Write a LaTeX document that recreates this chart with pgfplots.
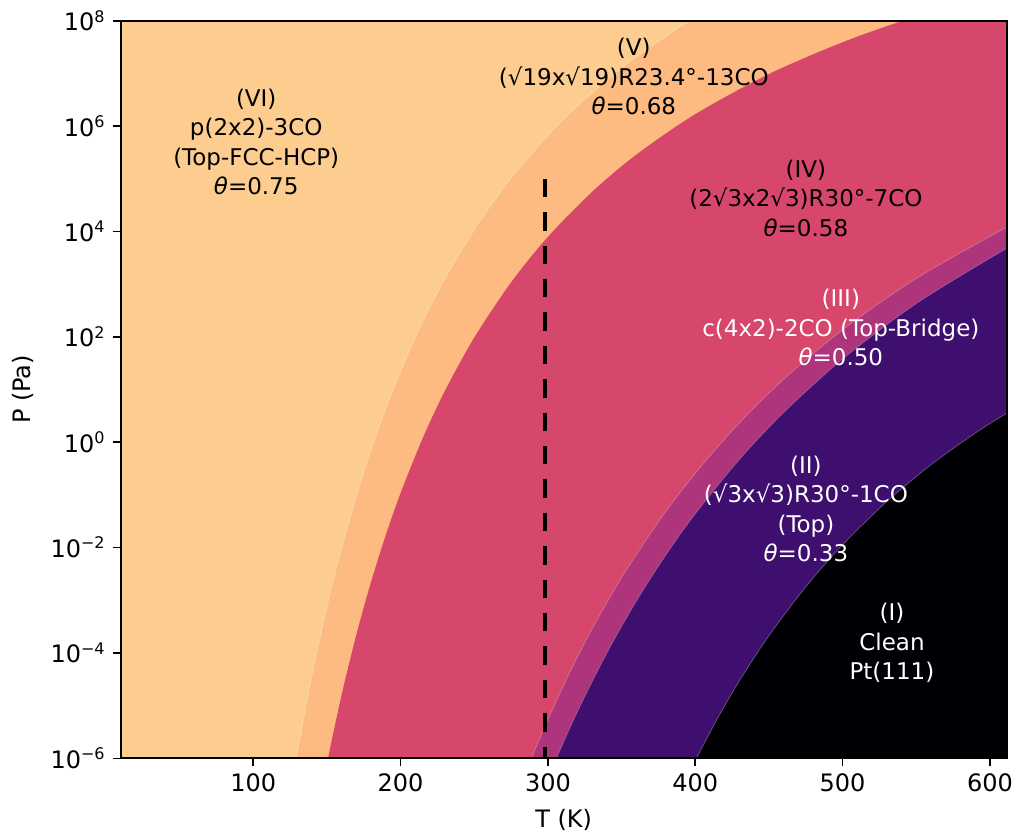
\documentclass[border=0pt]{standalone}
\usepackage{fontspec}
\setmainfont{DejaVu Sans}
\usepackage{pgfplots}
\usepackage{pgfplotstable}
\pgfplotsset{compat=1.18}
\definecolor{cVI}{HTML}{FDCD90}
\definecolor{cV}{HTML}{FDBB81}
\definecolor{cIV}{HTML}{D7466B}
\definecolor{cIII}{HTML}{AE347B}
\definecolor{cII}{HTML}{3E0F6F}
\definecolor{cI}{HTML}{000004}
% phase boundaries: T (K), log10 P (Pa)
\pgfplotstableread{
T L
125 -6.698
129.2 -6.001
135 -5.108
140 -4.398
150 -3.120
160 -2.002
175 -0.564
190 0.647
210 1.992
230 3.103
255 4.247
280 5.187
310 6.115
345 6.993
380 7.709
400 8.062
420 8.382
}\bA
\pgfplotstableread{
T L
146 -6.678
150.7 -6.000
160 -4.789
170 -3.648
180 -2.645
190 -1.757
200 -0.964
215 0.076
230 0.971
250 1.986
275 3.034
300 3.898
330 4.752
360 5.458
400 6.226
450 6.988
500 7.591
545 8.036
600 8.487
}\bB
\pgfplotstableread{
T L
280 -6.626
288.8 -6.000
300 -5.260
315 -4.357
330 -3.542
350 -2.570
375 -1.509
400 -0.589
430 0.368
460 1.194
500 2.134
550 3.109
611.4 4.080
630 4.336
}\bC
\pgfplotstableread{
T L
298 -6.525
305.8 -6.000
320 -5.114
340 -4.000
360 -3.016
380 -2.142
400 -1.359
430 -0.327
460 0.563
500 1.578
550 2.631
611.4 3.680
630 3.956
}\bD
\pgfplotstableread{
T L
395 -6.330
400.8 -6.000
415 -5.247
430 -4.527
450 -3.672
475 -2.745
500 -1.947
530 -1.127
560 -0.428
590 0.172
611.4 0.550
630 0.850
}\bE
\begin{document}
\begin{tikzpicture}
\path[use as bounding box] (-60.35pt,-36.85pt) rectangle (447.15pt,379.15pt);
\begin{axis}[
  at={(0,0)}, anchor=south west, scale only axis,
  width=443pt, height=368.8pt,
  xmin=10, xmax=611.4, ymin=-6, ymax=8,
  axis on top,
  tick pos=left, tick align=outside, major tick length=4pt,
  tick style={black, line width=0.8pt},
  axis line style={black, line width=0.9pt},
  xtick={100,200,300,400,500,600},
  xticklabels={100,200,300,400,500,600},
  ytick={-6,-4,-2,0,2,4,6,8},
  yticklabels={10\textsuperscript{−6},10\textsuperscript{−4},10\textsuperscript{−2},10\textsuperscript{0},10\textsuperscript{2},10\textsuperscript{4},10\textsuperscript{6},10\textsuperscript{8}},
  ticklabel style={font=\fontsize{12}{14}\selectfont},
  xlabel={T (K)}, ylabel={P (Pa)},
  label style={font=\fontsize{12}{14}\selectfont},
  xlabel style={at={(axis description cs:0.5,-0.0837)}, anchor=center},
  ylabel style={at={(axis description cs:-0.1103,0.5)}, anchor=center},
]
\addplot[draw=none, fill=cVI] coordinates {(0,-7) (700,-7) (700,9) (0,9)} -- cycle;
\addplot[draw=none, fill=cV, smooth] table[x=T,y=L]{\bA} -- (axis cs:700,8.6) -- (axis cs:700,-6.8) -- cycle;
\addplot[draw=none, fill=cIV, smooth] table[x=T,y=L]{\bB} -- (axis cs:700,8.6) -- (axis cs:700,-6.8) -- cycle;
\addplot[draw=none, fill=cIII, smooth] table[x=T,y=L]{\bC} -- (axis cs:700,4.45) -- (axis cs:700,-6.8) -- cycle;
\addplot[draw=none, fill=cII, smooth] table[x=T,y=L]{\bD} -- (axis cs:700,4.05) -- (axis cs:700,-6.8) -- cycle;
\addplot[draw=none, fill=cI, smooth] table[x=T,y=L]{\bE} -- (axis cs:700,0.87) -- (axis cs:700,-6.8) -- cycle;
\addplot[smooth, white, opacity=0.3, line width=0.4pt] table[x=T,y=L]{\bA};
\addplot[smooth, white, opacity=0.25, line width=0.4pt] table[x=T,y=L]{\bC};
\addplot[smooth, white, opacity=0.25, line width=0.4pt] table[x=T,y=L]{\bD};
\addplot[smooth, white, opacity=0.3, line width=0.4pt] table[x=T,y=L]{\bE};
\addplot[black, line width=2pt, dash pattern=on 9.2pt off 7.5pt, line cap=butt] coordinates {(298.15,5) (298.15,-6)};
\node[align=center, font=\fontsize{11.5}{14.75}\selectfont] at (axis cs:102.0,5.70) {(VI)\\p(2x2)-3CO\\(Top-FCC-HCP)\\\textit{θ}=0.75};
\node[align=center, font=\fontsize{11.5}{14.75}\selectfont] at (axis cs:358.3,6.94) {(V)\\(√19x√19)R23.4°-13CO\\\textit{θ}=0.68};
\node[align=center, font=\fontsize{11.5}{14.75}\selectfont] at (axis cs:475.1,4.63) {(IV)\\(2√3x2√3)R30°-7CO\\\textit{θ}=0.58};
\node[align=center, text=white, font=\fontsize{11.5}{14.75}\selectfont] at (axis cs:498.8,2.17) {(III)\\c(4x2)-2CO (Top-Bridge)\\\textit{θ}=0.50};
\node[align=center, text=white, font=\fontsize{11.5}{14.75}\selectfont] at (axis cs:475.1,-1.27) {(II)\\(√3x√3)R30°-1CO\\(Top)\\\textit{θ}=0.33};
\node[align=center, text=white, font=\fontsize{11.5}{14.75}\selectfont] at (axis cs:533.5,-3.81) {(I)\\Clean\\Pt(111)};
\end{axis}
\end{tikzpicture}
\end{document}
